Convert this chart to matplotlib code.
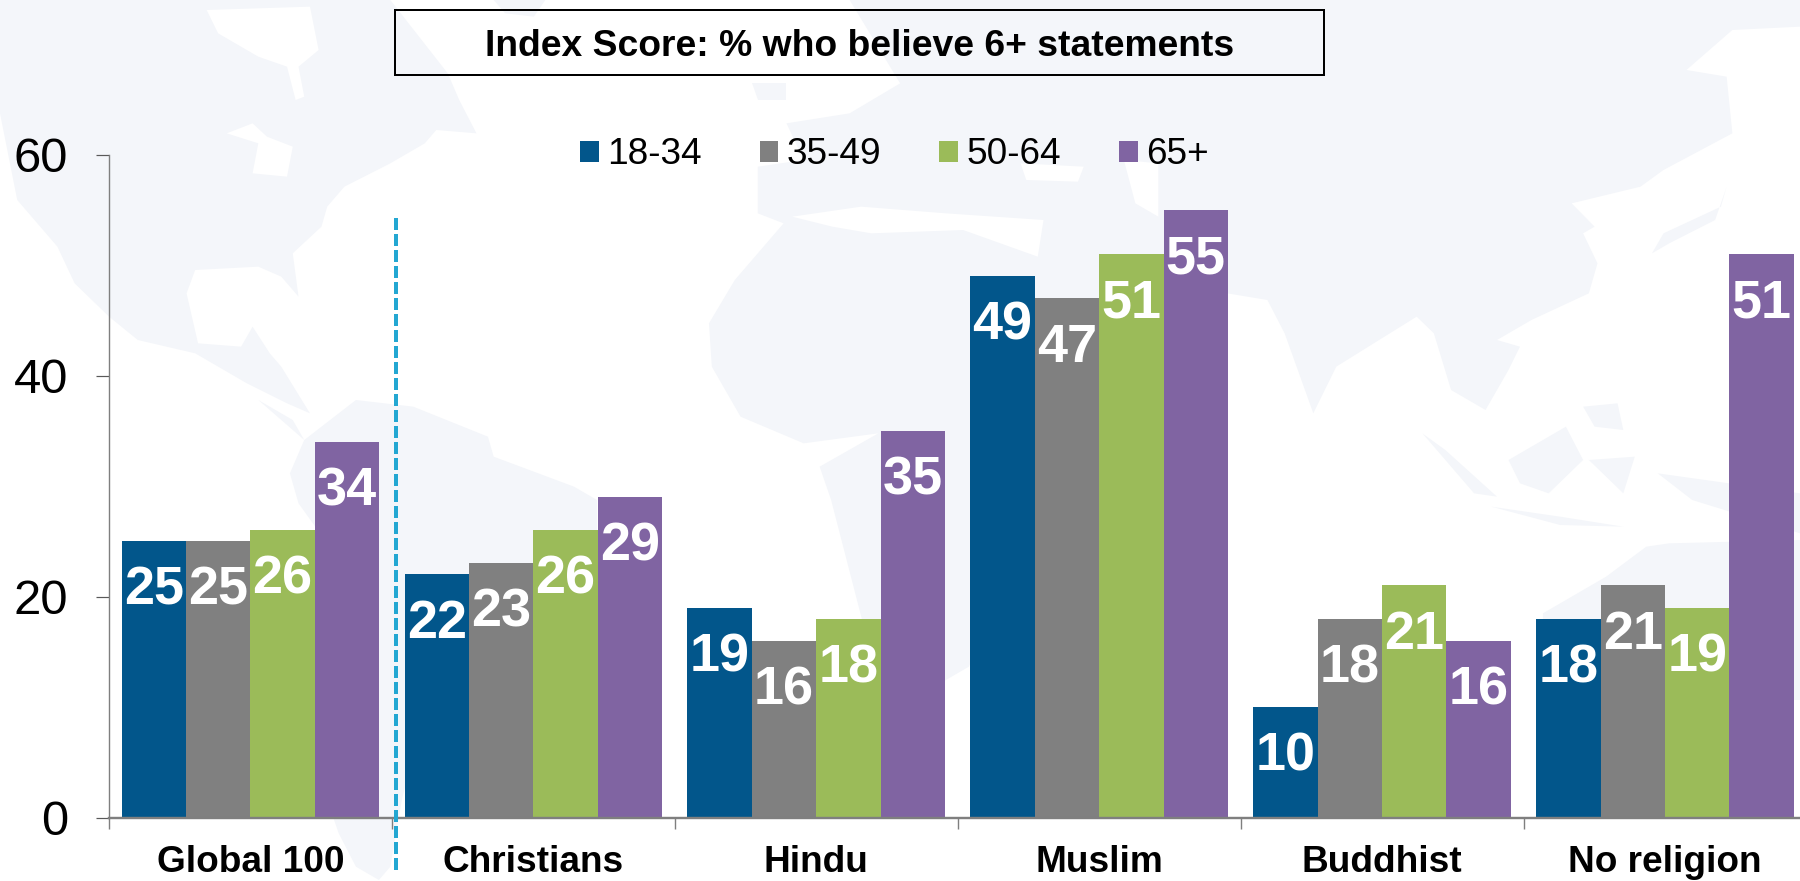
import matplotlib
matplotlib.use("Agg")
import matplotlib.pyplot as plt
import numpy as np
from matplotlib.patches import Polygon, Rectangle

plt.rcParams['font.family'] = ['Liberation Sans', 'DejaVu Sans']

categories = ["Global 100", "Christians", "Hindu", "Muslim", "Buddhist", "No religion"]
age_groups = ["18-34", "35-49", "50-64", "65+"]
age_18_34 = [25, 22, 19, 49, 10, 18]
age_35_49 = [25, 23, 16, 47, 18, 21]
age_50_64 = [26, 26, 18, 51, 21, 19]
age_65_up = [34, 29, 35, 55, 16, 51]
colors = ["#02568B", "#808080", "#9BBB59", "#8064A2"]
y_ticks = [0, 20, 40, 60]
title = "Index Score: % who believe 6+ statements"

LAND = "#f4f6fa"
W, H = 1800, 881
PX = 0.72  # px to pt at dpi 100

# faint world map behind the chart, outlines traced from zoomed crops
# (crop x is 1.742 per px, crop y is 3 per px)
land_left = [
    [(0,0),(680,0),(780,220),(800,300),(830,400),(760,390),(740,430),(680,490),(600,560),(570,620),
     (560,680),(510,760),(520,890),(490,830),(450,800),(340,810),(325,880),(345,1030),(420,1040),
     (440,980),(470,1060),(490,1100),(540,1240),(500,1210),(430,1150),(340,1060),(240,1020),
     (190,950),(130,850),(100,740),(30,600),(0,340)],
    [(860,0),(950,0),(930,50),(880,40)],
    [(1310,250),(1370,250),(1370,300),(1320,300)],
]
water_left = [
    [(360,30),(540,20),(555,150),(520,200),(530,290),(515,300),(500,200),(450,170),(380,100)],
    [(395,400),(440,370),(465,410),(510,440),(500,530),(440,520),(450,430)],
]
land_south_am = [(450,0),(510,60),(530,120),(620,0),(720,20),(850,110),(860,170),(1000,260),(1040,300),
                 (1040,400),(1000,520),(900,600),(860,700),(800,780),(730,1000),(700,1200),(680,1400),
                 (660,1440),(620,1400),(590,1300),(570,1200),(560,1000),(570,430),(520,310),(505,220),(530,120)]
# Eurasia and Africa, right-hand points from the upper crop at x offset 900
land_old_world = [(1480/1.742,0),(1800,0),(1800,80/3),(900+1450/1.742,90/3),(900+1370/1.742,210/3),
                  (900+1440/1.742,230/3),(900+1450/1.742,400/3),(900+1330/1.742,510/3),(900+1290/1.742,560/3),
                  (900+1170/1.742,610/3),(900+1210/1.742,680/3),(900+1190/1.742,700/3),(900+1215/1.742,790/3),
                  (900+1200/1.742,880/3),(900+1100/1.742,960/3),(900+1040/1.742,1020/3),(900+1080/1.742,1040/3),
                  (900+1060/1.742,1110/3),(900+1020/1.742,1230/3),(900+960/1.742,1170/3),(900+930/1.742,1000/3),
                  (900+900/1.742,950/3),(900+760/1.742,1100/3),(900+720/1.742,1240/3),(900+670/1.742,1000/3),
                  (900+640/1.742,900/3),(900+570/1.742,880/3),(900+520/1.742,960/3),(900+300/1.742,1300/3),
                  (900+120/1.742,2000/3),(900+20/1.742,2100/3),(900-60/1.742,1900/3),(900-120/1.742,1500/3),
                  (900-140/1.742,1400/3),(1530/1.742,1300/3),(1400/1.742,1330/3),(1290/1.742,1250/3),
                  (1240/1.742,1100/3),(1235/1.742,970/3),(1280/1.742,840/3),(1365/1.742,670/3),(1320/1.742,640/3),
                  (1320/1.742,500/3),(1400/1.742,480/3),(1370/1.742,370/3),(1480/1.742,340/3),(1568/1.742,250/3)]
water_old_world = [
    [(1380/1.742,650/3),(1500/1.742,620/3),(900+80/1.742,640/3),(900+250/1.742,660/3),(900+240/1.742,770/3),
     (900+110/1.742,690/3),(900-50/1.742,700/3),(1450/1.742,680/3)],
    [(900+210/1.742,490/3),(900+320/1.742,500/3),(900+310/1.742,545/3),(900+220/1.742,540/3)],
    [(900+390/1.742,480/3),(900+450/1.742,490/3),(900+450/1.742,650/3),(900+410/1.742,610/3)],
]
land_islands = [
    [(900+1310/1.742,760/3),(900+1330/1.742,700/3),(900+1430/1.742,620/3),(900+1440/1.742,560/3),
     (900+1420/1.742,660/3),(900+1340/1.742,730/3)],
    [(900+910/1.742,400+100/3),(900+1000/1.742,400+280/3),(900+1040/1.742,400+290/3),(900+950/1.742,400+150/3)],
    [(900+1030/1.742,400+320/3),(900+1150/1.742,400+350/3),(900+1260/1.742,400+380/3),(900+1150/1.742,400+375/3)],
    [(900+1060/1.742,400+180/3),(900+1160/1.742,400+80/3),(900+1190/1.742,400+180/3),(900+1130/1.742,400+280/3),
     (900+1080/1.742,400+250/3)],
    [(900+1200/1.742,400+180/3),(900+1280/1.742,400+170/3),(900+1260/1.742,400+280/3)],
    [(900+1320/1.742,400+220/3),(900+1568/1.742,400+280/3),(900+1568/1.742,400+400/3),(900+1380/1.742,400+300/3)],
    [(900+1190/1.742,400+20/3),(900+1250/1.742,400+10/3),(900+1260/1.742,400+90/3),(900+1210/1.742,400+80/3)],
    [(900+1120/1.742,400+640/3),(900+1230/1.742,400+530/3),(900+1300/1.742,400+440/3),(900+1340/1.742,400+430/3),
     (900+1568/1.742,400+420/3),(900+1568/1.742,400+900/3),(900+1120/1.742,400+900/3)],
]


def crop_pts(pts, oy=0):
    return [(x / 1.742, oy + y / 3) for x, y in pts]


fig = plt.figure(figsize=(W / 100, H / 100), dpi=100, facecolor="white")

bg = fig.add_axes([0, 0, 1, 1], zorder=0)
bg.set_xlim(0, W)
bg.set_ylim(H, 0)
bg.axis("off")
for pts in land_left:
    bg.add_patch(Polygon(crop_pts(pts), fc=LAND, ec="none"))
for pts in water_left:
    bg.add_patch(Polygon(crop_pts(pts), fc="white", ec="none"))
bg.add_patch(Polygon(crop_pts(land_south_am, 400), fc=LAND, ec="none"))
bg.add_patch(Polygon(land_old_world, fc=LAND, ec="none"))
for pts in water_old_world:
    bg.add_patch(Polygon(pts, fc="white", ec="none"))
for pts in land_islands:
    bg.add_patch(Polygon(pts, fc=LAND, ec="none"))

# title box
bg.add_patch(Rectangle((395, 10), 929, 65, fc="none", ec="black", lw=2 * PX))
bg.text(860, 47, title, ha="center", va="center", fontsize=37.3 * PX, fontweight="bold", color="black")

ax = fig.add_axes([109 / W, (H - 817.5) / H, 1697.4 / W, 663 / H], zorder=1)
ax.patch.set_alpha(0)
ax.set_xlim(0, 6)
ax.set_ylim(0, 60)

series = [age_18_34, age_35_49, age_50_64, age_65_up]
bar_w = 64.4 / 282.9
x = np.arange(len(categories)) + 0.5
for i, vals in enumerate(series):
    xs = x + (i - 1.5) * bar_w
    bars = ax.bar(xs, vals, bar_w, color=colors[i], label=age_groups[i], linewidth=0)
    for b, v in zip(bars, vals):
        ax.annotate(str(v), (b.get_x() + b.get_width() / 2, v), xytext=(0, -44 * PX),
                    textcoords="offset points", ha="center", va="center_baseline",
                    color="white", fontsize=54 * PX, fontweight="bold")

ax.spines["top"].set_visible(False)
ax.spines["right"].set_visible(False)
ax.spines["left"].set_color("#7f7f7f")
ax.spines["left"].set_linewidth(1.4 * PX)
ax.spines["bottom"].set_color("#7f7f7f")
ax.spines["bottom"].set_linewidth(2.4 * PX)

ax.set_yticks(y_ticks)
ax.tick_params(axis="y", length=13 * PX, width=1.2 * PX, color="#595959", pad=28 * PX,
               labelsize=49 * PX, labelcolor="black")
ax.set_xticks(np.arange(0, 7))
ax.set_xticklabels([])
ax.tick_params(axis="x", which="major", length=11 * PX, width=1.4 * PX, color="#7f7f7f")
ax.set_xticks(x, minor=True)
ax.set_xticklabels(categories, minor=True, fontsize=37 * PX, fontweight="bold", color="black")
ax.tick_params(axis="x", which="minor", length=0, pad=28 * PX)

# dashed divider between Global 100 and the religions
px_per_unit = 663 / 60
ax.plot([(395.5 - 109) / 282.9] * 2, [(817.5 - 218) / px_per_unit, (817.5 - 870) / px_per_unit],
        color="#23A7D2", lw=4 * PX, ls=(0, (3, 1)), clip_on=False, zorder=5)

ax.legend(loc="center left", bbox_to_anchor=(580 / W, (H - 155) / H), bbox_transform=fig.transFigure,
          ncol=4, frameon=False, fontsize=37 * PX, borderpad=0, borderaxespad=0,
          handlelength=0.5, handleheight=0.52, handletextpad=0.22, columnspacing=1.58)

fig.savefig("out.png", dpi=100)
